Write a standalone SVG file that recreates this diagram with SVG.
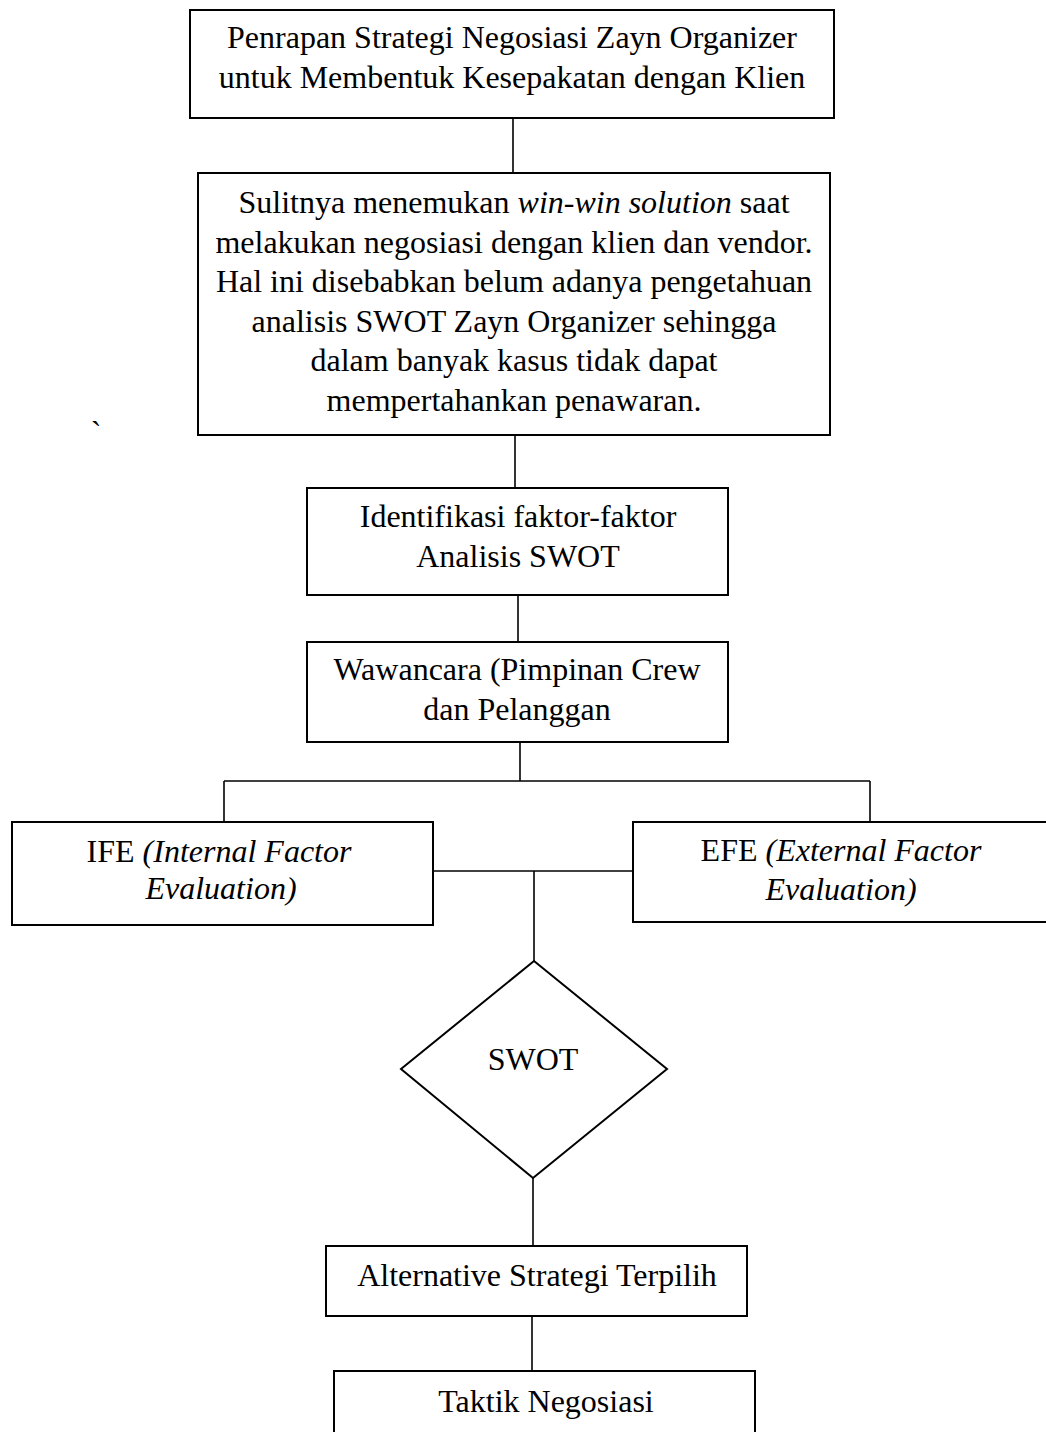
<svg xmlns="http://www.w3.org/2000/svg" width="1046" height="1432" viewBox="0 0 1046 1432">
<style>
  .box { fill: #ffffff; stroke: #000000; stroke-width: 2; }
  .ln { fill: none; stroke: #000000; stroke-width: 1.6; }
  .t { font-family: "Liberation Serif", "Times New Roman", serif; font-size: 32px; fill: #000000; text-anchor: middle; }
  .i { font-style: italic; }
</style>
<rect x="0" y="0" width="1046" height="1432" fill="#ffffff"/>
<g id="connectors">
  <line class="ln" x1="513" y1="118" x2="513" y2="174"/>
  <line class="ln" x1="515" y1="435" x2="515" y2="488"/>
  <line class="ln" x1="518" y1="595" x2="518" y2="642"/>
  <line class="ln" x1="520" y1="742" x2="520" y2="781"/>
  <line class="ln" x1="224" y1="781" x2="870" y2="781"/>
  <line class="ln" x1="224" y1="781" x2="224" y2="822"/>
  <line class="ln" x1="870" y1="781" x2="870" y2="822"/>
  <line class="ln" x1="433" y1="871" x2="633" y2="871"/>
  <line class="ln" x1="534" y1="871" x2="534" y2="961"/>
  <line class="ln" x1="533" y1="1178" x2="533" y2="1246"/>
  <line class="ln" x1="532" y1="1316" x2="532" y2="1371"/>
</g>
<g id="node-title">
  <rect class="box" x="190" y="10" width="644" height="108"/>
  <text class="t" x="512" y="48">Penrapan Strategi Negosiasi Zayn Organizer</text>
  <text class="t" x="512" y="88">untuk Membentuk Kesepakatan dengan Klien</text>
</g>
<g id="node-problem">
  <rect class="box" x="198" y="173" width="632" height="262"/>
  <text class="t" x="514" y="213">Sulitnya menemukan <tspan class="i">win-win solution</tspan> saat</text>
  <text class="t" x="514" y="252.5">melakukan negosiasi dengan klien dan vendor.</text>
  <text class="t" x="514" y="292">Hal ini disebabkan belum adanya pengetahuan</text>
  <text class="t" x="514" y="331.5">analisis SWOT Zayn Organizer sehingga</text>
  <text class="t" x="514" y="371">dalam banyak kasus tidak dapat</text>
  <text class="t" x="514" y="410.5">mempertahankan penawaran.</text>
</g>
<text class="t" x="96" y="443">`</text>
<g id="node-identifikasi">
  <rect class="box" x="307" y="488" width="421" height="107"/>
  <text class="t" x="518" y="527">Identifikasi faktor-faktor</text>
  <text class="t" x="518" y="567">Analisis SWOT</text>
</g>
<g id="node-wawancara">
  <rect class="box" x="307" y="642" width="421" height="100"/>
  <text class="t" x="517" y="680">Wawancara (Pimpinan Crew</text>
  <text class="t" x="517" y="720">dan Pelanggan</text>
</g>
<g id="node-ife">
  <rect class="box" x="12" y="822" width="421" height="103"/>
  <text class="t" x="219" y="862">IFE <tspan class="i">(Internal Factor</tspan></text>
  <text class="t i" x="221" y="899">Evaluation)</text>
</g>
<g id="node-efe">
  <rect class="box" x="633" y="822" width="420" height="100"/>
  <text class="t" x="841" y="861">EFE <tspan class="i">(External Factor</tspan></text>
  <text class="t i" x="841" y="900">Evaluation)</text>
</g>
<g id="node-swot">
  <polygon class="box" points="534,961 667,1069 533,1178 401,1069"/>
  <text class="t" x="533" y="1070">SWOT</text>
</g>
<g id="node-alternative">
  <rect class="box" x="326" y="1246" width="421" height="70"/>
  <text class="t" x="537" y="1286">Alternative Strategi Terpilih</text>
</g>
<g id="node-taktik">
  <rect class="box" x="334" y="1371" width="421" height="80"/>
  <text class="t" x="546" y="1412">Taktik Negosiasi</text>
</g>
</svg>
